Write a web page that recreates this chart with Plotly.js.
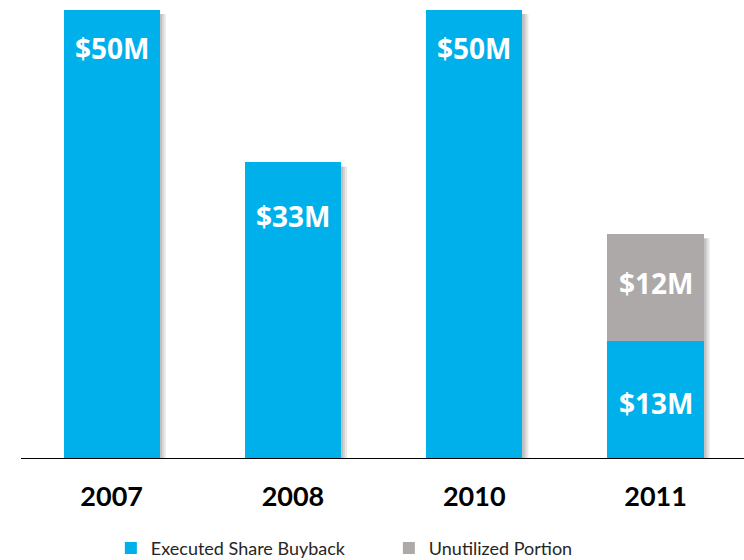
<!DOCTYPE html>
<html>
<head>
<meta charset="utf-8">
<script src="https://cdn.plot.ly/plotly-3.0.1.min.js"></script>
<style>html,body{margin:0;padding:0;background:#fff;}#chart{width:744px;height:560px;}</style>
</head>
<body>
<div id="chart"></div>
<script>
// Data
const years = ['2007', '2008', '2010', '2011'];
const executed = [50, 33, 50, 13];
const unutilized = [0, 0, 0, 12];
const executedLabels = ['$50M', '$33M', '$50M', '$13M'];
const unutilizedLabels = ['', '', '', '$12M'];

// Styles
const blue = '#00B0EA';
const gray = '#ADA9A8';
const labelFont = {family: '"Open Sans", Lato, sans-serif', size: 28, color: '#ffffff', weight: 'bold'};
const execShift = [-38, -54, -38, -3];
const unutShift = [5, 5, 5, 5];

const idx = years.map((_, i) => i);

const traces = [
  {
    type: 'bar', name: 'Executed Share Buyback', x: idx, y: executed,
    marker: {color: blue}, hoverinfo: 'skip'
  },
  {
    type: 'bar', name: 'Unutilized Portion', x: idx, y: unutilized,
    marker: {color: gray}, hoverinfo: 'skip'
  }
];

const annotations = [];
const shapes = [];
const halfW = 0.265;
idx.forEach(i => {
  const single = unutilized[i] === 0;
  annotations.push({
    x: i, y: single ? executed[i] : executed[i] / 2,
    xref: 'x', yref: 'y', text: executedLabels[i], showarrow: false,
    yanchor: 'middle', yshift: execShift[i], font: labelFont
  });
  if (!single) {
    annotations.push({
      x: i, y: executed[i] + unutilized[i] / 2,
      xref: 'x', yref: 'y', text: unutilizedLabels[i], showarrow: false,
      yanchor: 'middle', yshift: unutShift[i], font: labelFont
    });
  }
  const total = executed[i] + unutilized[i];
  // soft drop shadow on the right side
  [0.012, 0.022, 0.034].forEach(w => {
    shapes.push({
      type: 'rect', layer: 'below', xref: 'x', yref: 'y',
      x0: i + halfW - 0.01, x1: i + halfW + w, y0: 0, y1: total - 0.5,
      fillcolor: 'rgba(0,0,0,0.09)', line: {width: 0}
    });
  });
});

const layout = {
  width: 744, height: 560,
  margin: {l: 21, r: 0, t: 0, b: 102},
  paper_bgcolor: '#ffffff', plot_bgcolor: '#ffffff',
  barmode: 'stack', bargap: 0.47,
  showlegend: true,
  legend: {
    orientation: 'h', xref: 'container', yref: 'container',
    x: 0.149, xanchor: 'left', y: 0.021, yanchor: 'middle',
    font: {family: 'Lato, "Open Sans", sans-serif', size: 18, color: '#262626'},
    entrywidth: 233, entrywidthmode: 'pixels', traceorder: 'normal'
  },
  xaxis: {
    range: [-0.5, 3.488], tickmode: 'array', tickvals: idx, ticktext: years,
    showgrid: false, zeroline: false, showline: true, linecolor: '#000000', linewidth: 1.3,
    ticks: '', tickfont: {family: 'Lato, "Open Sans", sans-serif', size: 27, color: '#000000', weight: 'bold'},
    ticklabelstandoff: 14, fixedrange: true
  },
  yaxis: {
    range: [0, 51.06], showgrid: false, zeroline: false, showline: false,
    showticklabels: false, ticks: '', fixedrange: true
  },
  annotations: annotations,
  shapes: shapes
};

Plotly.newPlot('chart', traces, layout, {displayModeBar: false, staticPlot: true});
</script>
</body>
</html>
